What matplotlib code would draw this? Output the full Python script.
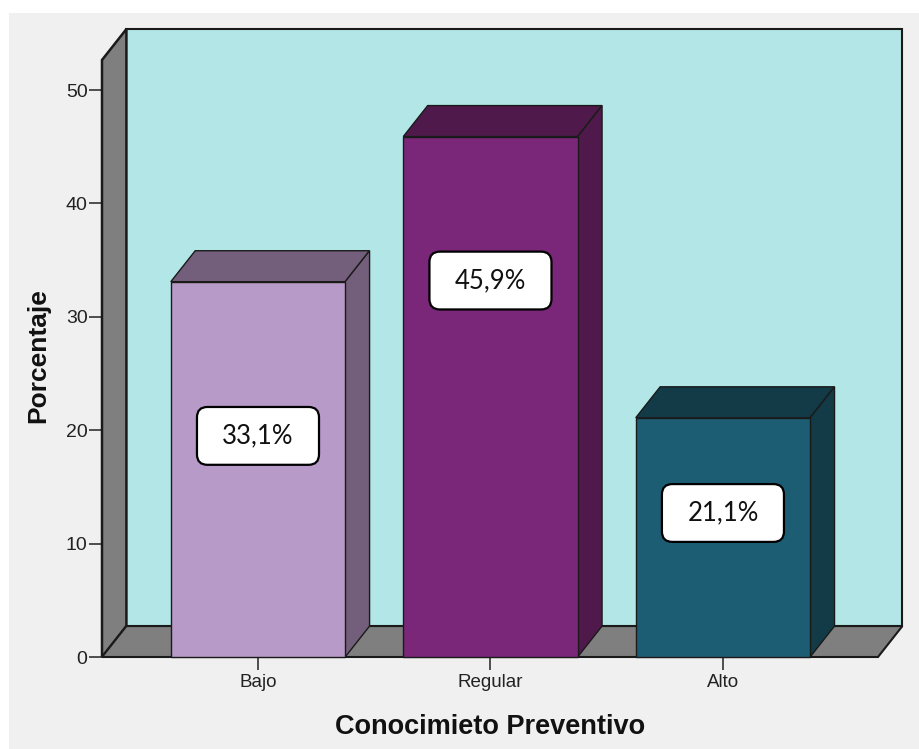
import matplotlib.pyplot as plt
from matplotlib.patches import Rectangle, Polygon, FancyBboxPatch

categories = ['Bajo', 'Regular', 'Alto']
percent = [33.1, 45.9, 21.1]
value_labels = ['33,1%', '45,9%', '21,1%']
label_y = [19.5, 33.2, 12.7]

front_colors = ['#b89ac8', '#7b2779', '#1c5d73']
shade_colors = ['#735f7b', '#4f1a4b', '#133a47']

xmin, xmax = -0.671, 2.667
ymax = 52.65
dx, dy = 0.105, 2.73
bar_w = 0.75
edge = '#1a1a1a'

fig = plt.figure(figsize=(9.19, 7.49), dpi=100, facecolor='white')
fig.patches.append(Rectangle((9 / 919, 0), 1, (749 - 13) / 749, transform=fig.transFigure,
                             facecolor='#f0f0f0', edgecolor='none', zorder=-10))

ax = fig.add_axes([102 / 919, (749 - 657) / 749, 776 / 919, 597 / 749])
ax.set_xlim(xmin, xmax)
ax.set_ylim(0, ymax)
ax.patch.set_visible(False)
for s in ax.spines.values():
    s.set_visible(False)

# back wall, left wall and floor
ax.add_patch(Rectangle((xmin + dx, dy), xmax - xmin, ymax, facecolor='#b3e6e6',
                       edgecolor=edge, lw=1.5, clip_on=False, zorder=1))
ax.add_patch(Polygon([(xmin, 0), (xmin, ymax), (xmin + dx, ymax + dy), (xmin + dx, dy)],
                     facecolor='#7f7f7f', edgecolor=edge, lw=1.8, clip_on=False, zorder=2))
ax.add_patch(Polygon([(xmin, 0), (xmax, 0), (xmax + dx, dy), (xmin + dx, dy)],
                     facecolor='#7f7f7f', edgecolor=edge, lw=1.5, clip_on=False, zorder=2))

# 3D bars
for i, v in enumerate(percent):
    x0 = i - bar_w / 2
    x1 = i + bar_w / 2
    ax.add_patch(Polygon([(x0, v), (x1, v), (x1 + dx, v + dy), (x0 + dx, v + dy)],
                         facecolor=shade_colors[i], edgecolor=edge, lw=1, clip_on=False, zorder=3))
    ax.add_patch(Polygon([(x1, 0), (x1 + dx, dy), (x1 + dx, v + dy), (x1, v)],
                         facecolor=shade_colors[i], edgecolor=edge, lw=1, clip_on=False, zorder=3))
    ax.add_patch(Rectangle((x0, 0), bar_w, v, facecolor=front_colors[i],
                           edgecolor=edge, lw=1, clip_on=False, zorder=4))

    # value label box
    bw, bh = 0.525, 5.1
    ax.add_patch(FancyBboxPatch((i - bw / 2, label_y[i] - bh / 2), bw, bh,
                                boxstyle='round,pad=0,rounding_size=0.045',
                                mutation_aspect=232.5 / 11.34,
                                facecolor='white', edgecolor='black', lw=1.6, zorder=5))
    ax.text(i, label_y[i], value_labels[i], ha='center', va='center',
            fontsize=18.5, family='Lato', color='#111111', zorder=6)

ax.set_yticks(range(0, 51, 10))
ax.set_xticks(range(len(categories)))
ax.set_xticklabels(categories)
ax.tick_params(axis='y', length=9.4, width=1.2, color='#333333', pad=1,
               labelsize=14, labelcolor='#222222')
ax.tick_params(axis='x', length=9, width=1.2, color='#333333', pad=3,
               labelsize=13.5, labelcolor='#222222')
for lab in ax.get_xticklabels() + ax.get_yticklabels():
    lab.set_family('Liberation Sans')

fig.text(38 / 919, 1 - 356 / 749, 'Porcentaje', rotation=90, ha='center', va='center',
         fontsize=19, fontweight='bold', family='Liberation Sans', color='#111111')
fig.text(490 / 919, 1 - 727 / 749, 'Conocimieto Preventivo', ha='center', va='center',
         fontsize=19.5, fontweight='bold', family='Liberation Sans', color='#111111')

fig.savefig('out.png', dpi=100, facecolor=fig.get_facecolor())
